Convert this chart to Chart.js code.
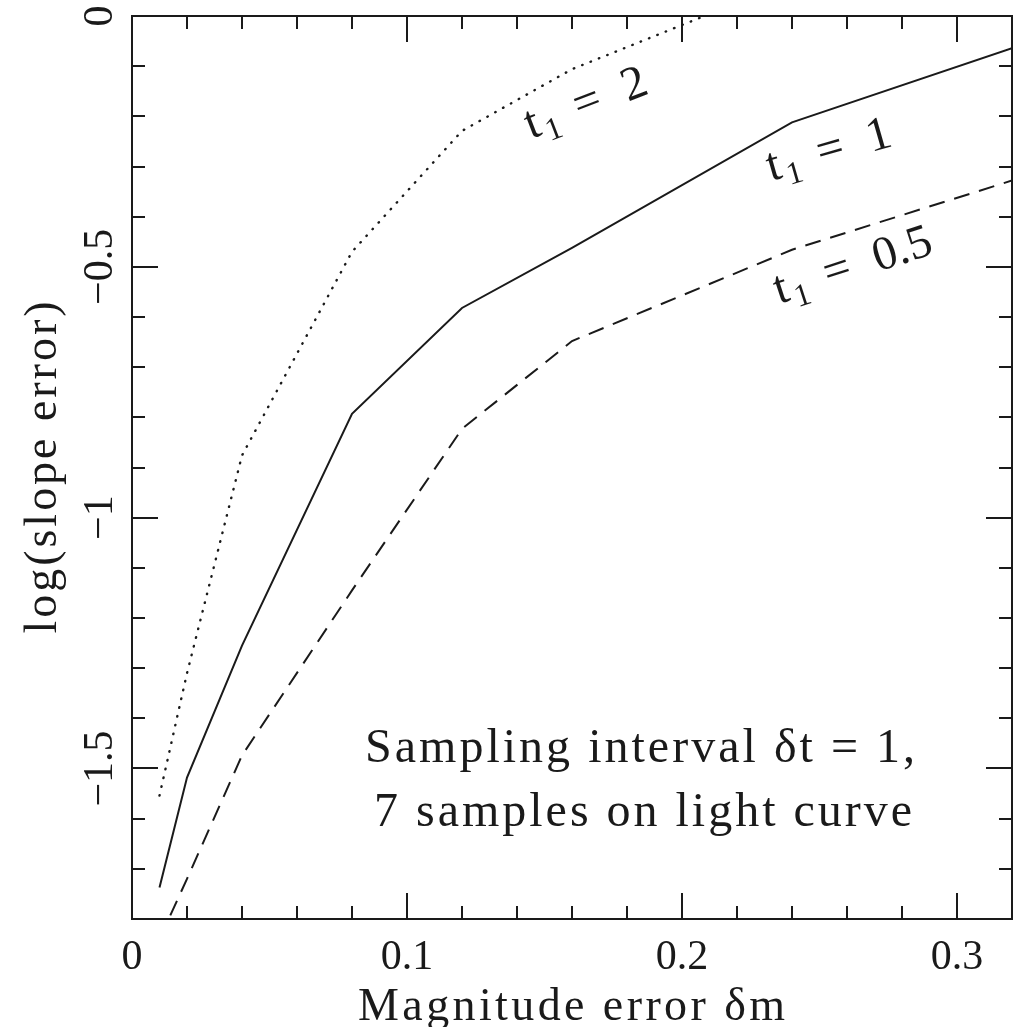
<!DOCTYPE html>
<html>
<head>
<meta charset="utf-8">
<script src="https://cdn.jsdelivr.net/npm/chart.js@4.4.0/dist/chart.umd.min.js"></script>
<style>
  html, body { margin: 0; padding: 0; background: #fff; }
  canvas { display: block; }
</style>
</head>
<body>
<canvas id="chart" width="1022" height="1027"></canvas>
<script>
// magnitude error (x) and log(slope error) for the three t1 values
var magErr = [0.01, 0.02, 0.04, 0.08, 0.12, 0.16, 0.24, 0.32];
var slopeErrT2 = [-1.554, -1.31, -0.876, -0.47, -0.229, -0.106, 0.07, null];
var slopeErrT1 = [-1.737, -1.518, -1.255, -0.793, -0.582, -0.462, -0.212, -0.064];
var slopeErrT05 = [-1.84, -1.72, -1.474, -1.145, -0.823, -0.648, -0.466, -0.328];

var xTickValues = [0, 0.1, 0.2, 0.3];
var xTickLabels = ['0', '0.1', '0.2', '0.3'];
var yTickValues = [0, -0.5, -1, -1.5];
var yTickLabels = ['0', '\u22120.5', '\u22121', '\u22121.5'];

var FONT = '"Liberation Serif", "DejaVu Serif", serif';
var INK = '#1a1a1a';

function toPoints(ys) {
    var pts = [];
    for (var i = 0; i < magErr.length; i++) {
        if (ys[i] !== null) pts.push({ x: magErr[i], y: ys[i] });
    }
    return pts;
}

// draw text char by char so it fills the span x0..x1 (wide plotter lettering)
function fitText(c, s, x0, x1, y) {
    var chars = Array.from(s), w = 0;
    chars.forEach(function (ch) { w += c.measureText(ch).width; });
    var sp = chars.length > 1 ? (x1 - x0 - w) / (chars.length - 1) : 0;
    var x = x0;
    c.textAlign = 'left';
    chars.forEach(function (ch) {
        c.fillText(ch, x, y);
        x += c.measureText(ch).width + sp;
    });
}

function curveLabel(c, x, y, deg, value) {
    c.save();
    c.translate(x, y);
    c.rotate(deg * Math.PI / 180);
    c.textAlign = 'left';
    c.font = '48px ' + FONT;
    c.fillText('t', 0, 0);
    c.font = '32px ' + FONT;
    c.fillText('1', 17, 9);
    c.font = '48px ' + FONT;
    c.fillText('=', 52, 0);
    c.fillText(value, 104, 0);
    c.restore();
}

var framePlugin = {
    id: 'frame',
    afterDraw: function (chart) {
        var c = chart.ctx, a = chart.chartArea;
        var xs = chart.scales.x, ys = chart.scales.y;
        c.save();
        c.strokeStyle = INK;
        c.fillStyle = INK;
        c.lineWidth = 2;
        c.strokeRect(a.left, a.top, a.right - a.left, a.bottom - a.top);

        // ticks on all four sides, pointing in
        c.beginPath();
        for (var i = 1; i < 16; i++) {
            var px = Math.round(xs.getPixelForValue(i * 0.02));
            var len = (i % 5 === 0) ? 26 : 13;
            c.moveTo(px, a.bottom); c.lineTo(px, a.bottom - len);
            c.moveTo(px, a.top); c.lineTo(px, a.top + len);
        }
        for (var j = 1; j < 18; j++) {
            var py = Math.round(ys.getPixelForValue(-j * 0.1));
            var l2 = (j % 5 === 0) ? 26 : 13;
            c.moveTo(a.left, py); c.lineTo(a.left + l2, py);
            c.moveTo(a.right, py); c.lineTo(a.right - l2, py);
        }
        c.stroke();

        // tick labels
        c.font = '42px ' + FONT;
        c.textAlign = 'center';
        c.textBaseline = 'alphabetic';
        xTickValues.forEach(function (v, k) {
            c.fillText(xTickLabels[k], xs.getPixelForValue(v), 969);
        });
        yTickValues.forEach(function (v, k) {
            c.save();
            c.translate(112, ys.getPixelForValue(v));
            c.rotate(-Math.PI / 2);
            c.textAlign = 'center';
            c.fillText(yTickLabels[k], 0, 0);
            c.restore();
        });

        // axis titles
        c.font = '46px ' + FONT;
        fitText(c, 'Magnitude error \u03B4m', 358, 785, 1020);
        c.save();
        c.translate(56, (a.top + a.bottom) / 2);
        c.rotate(-Math.PI / 2);
        fitText(c, 'log(slope error)', -166, 166, 0);
        c.restore();

        // annotation
        c.font = '48px ' + FONT;
        fitText(c, 'Sampling interval \u03B4t = 1,', 365, 915, 762);
        fitText(c, '7 samples on light curve', 374, 912, 826);

        curveLabel(c, 531, 139, -21, '2');
        curveLabel(c, 771, 181, -16, '1');
        curveLabel(c, 779, 304, -18, '0.5');
        c.restore();
    }
};

var lineBase = { showLine: true, pointRadius: 0, borderColor: INK, fill: false, clip: 0, tension: 0 };

new Chart(document.getElementById('chart').getContext('2d'), {
    type: 'scatter',
    data: {
        datasets: [
            Object.assign({ data: toPoints(slopeErrT2), borderWidth: 2.4, borderDash: [0.5, 8.5], borderCapStyle: 'round' }, lineBase),
            Object.assign({ data: toPoints(slopeErrT1), borderWidth: 2 }, lineBase),
            Object.assign({ data: toPoints(slopeErrT05), borderWidth: 2, borderDash: [16, 10] }, lineBase)
        ]
    },
    options: {
        responsive: false,
        animation: false,
        devicePixelRatio: 1,
        layout: { padding: { left: 132, top: 16, right: 10, bottom: 108 } },
        plugins: { legend: { display: false }, tooltip: { enabled: false } },
        scales: {
            x: { type: 'linear', min: 0, max: 0.32, display: false },
            y: { type: 'linear', min: -1.8, max: 0, display: false }
        }
    },
    plugins: [framePlugin]
});
</script>
</body>
</html>
